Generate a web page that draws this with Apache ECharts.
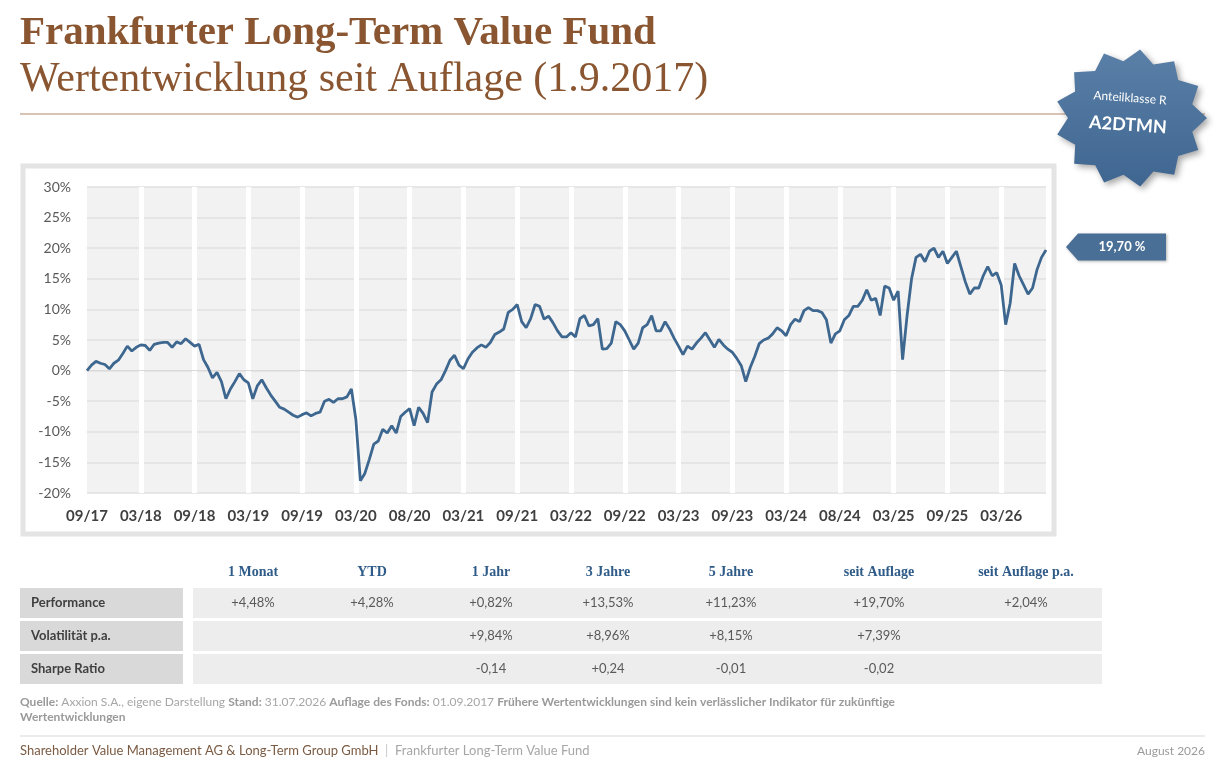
<!DOCTYPE html>
<html>
<head>
<meta charset="utf-8">
<script src="https://cdn.jsdelivr.net/npm/echarts@6/dist/echarts.min.js"></script>
<style>
html, body { margin: 0; padding: 0; background: #ffffff; }
#main { width: 1230px; height: 775px; }
</style>
</head>
<body>
<div id="main"></div>
<script>
// Achsenbeschriftung: ein Label alle 12 Datenpunkte (ca. halbjaehrlich)
var tickLabels = ['09/17', '03/18', '09/18', '03/19', '09/19', '03/20', '08/20', '03/21', '09/21',
    '03/22', '09/22', '03/23', '09/23', '03/24', '08/24', '03/25', '09/25', '03/26'];
var pointsPerTick = 12;

// Wertentwicklung seit Auflage in % (ca. 2-Wochen-Raster)
var fundValues = [
    0.0, 0.9, 1.5, 1.2, 1.0, 0.3, 1.2, 1.7, 2.8, 4.0, 3.2, 3.8,
    4.2, 4.1, 3.3, 4.3, 4.5, 4.6, 4.6, 3.8, 4.7, 4.4, 5.2, 4.6,
    4.0, 4.3, 1.8, 0.5, -1.2, -0.3, -1.8, -4.6, -3.0, -1.8, -0.5, -1.5,
    -2.0, -4.6, -2.5, -1.5, -2.8, -4.0, -5.0, -6.0, -6.3, -6.8, -7.3, -7.6,
    -7.2, -6.9, -7.4, -7.0, -6.8, -5.0, -4.7, -5.2, -4.6, -4.6, -4.3, -3.0,
    -8.0, -18.0, -16.8, -14.5, -12.0, -11.5, -9.6, -10.2, -9.0, -10.2, -7.5, -6.8,
    -6.2, -9.0, -6.0, -7.0, -8.5, -3.5, -2.2, -1.5, 0.0, 1.7, 2.5, 0.9,
    0.3, 1.9, 3.0, 3.7, 4.2, 3.8, 4.6, 5.9, 6.3, 6.8, 9.5, 10.0,
    10.8, 8.0, 7.0, 8.5, 10.8, 10.5, 8.4, 8.9, 7.8, 6.5, 5.5, 5.5,
    6.2, 5.5, 8.5, 9.0, 7.3, 7.5, 8.5, 3.5, 3.6, 4.5, 8.0, 7.5,
    6.5, 5.0, 3.5, 4.5, 7.0, 7.5, 9.0, 6.5, 6.5, 8.0, 6.8, 5.3,
    4.0, 2.6, 4.0, 3.5, 4.5, 5.3, 6.2, 5.0, 3.8, 5.1, 4.2, 3.5,
    3.0, 2.0, 0.8, -1.8, 0.5, 2.3, 4.4, 5.0, 5.3, 6.0, 7.0, 6.5,
    5.7, 7.5, 8.4, 8.0, 9.8, 10.3, 9.8, 9.8, 9.5, 8.3, 4.5, 6.0,
    6.5, 8.3, 9.0, 10.5, 10.5, 11.5, 13.2, 11.5, 11.8, 9.0, 13.8, 13.5,
    11.5, 13.0, 1.8, 9.0, 15.0, 18.5, 19.0, 17.8, 19.5, 20.0, 18.5, 19.5,
    17.5, 18.5, 19.5, 17.0, 14.5, 12.5, 13.5, 13.5, 15.5, 17.0, 15.5, 16.0,
    14.0, 7.5, 11.0, 17.5, 15.5, 14.0, 12.5, 13.5, 16.5, 18.5, 19.7
];

// Kennzahlen-Tabelle
var tableColumns = ['1 Monat', 'YTD', '1 Jahr', '3 Jahre', '5 Jahre', 'seit Auflage', 'seit Auflage p.a.'];
var tableRows = ['Performance', 'Volatilität p.a.', 'Sharpe Ratio'];
var performance = ['+4,48%', '+4,28%', '+0,82%', '+13,53%', '+11,23%', '+19,70%', '+2,04%'];
var volatility = ['', '', '+9,84%', '+8,96%', '+8,15%', '+7,39%', ''];
var sharpe = ['', '', '-0,14', '+0,24', '-0,01', '-0,02', ''];

var categories = fundValues.map(function (v, i) { return String(i); });
var lastIndex = fundValues.length - 1;
var lastLabel = fundValues[lastIndex].toFixed(2).replace('.', ',') + ' %';

var sansFont = 'Lato, "Liberation Sans", sans-serif';
var serifFont = '"Liberation Serif", "DejaVu Serif", serif';
var brown = '#8a5631';
var badgeBlue = '#4a6f96';

var chart = echarts.init(document.getElementById('main'));

function starPoints(cx, cy, rx, ry, n, inner) {
    var pts = [];
    for (var k = 0; k < n * 2; k++) {
        var a = Math.PI * k / n - Math.PI / 2 + 0.12;
        var f = k % 2 === 0 ? 1 : inner;
        pts.push([cx + Math.cos(a) * rx * f, cy + Math.sin(a) * ry * f]);
    }
    return pts;
}

// Tabelle als Grafik-Elemente
var colX = [253, 372, 491, 608, 731, 879, 1026];
var rowY = [588, 621, 654];
var rowValues = [performance, volatility, sharpe];
var tableGraphics = [];
tableColumns.forEach(function (c, j) {
    tableGraphics.push({
        type: 'text', x: colX[j], y: 572,
        style: { text: c, fill: '#2f5b88', font: 'bold 14px ' + serifFont, textAlign: 'center', textVerticalAlign: 'middle' }
    });
});
tableRows.forEach(function (r, i) {
    tableGraphics.push({
        type: 'rect', shape: { x: 20, y: rowY[i], width: 163, height: 30 },
        style: { fill: '#d9d9d9' }
    });
    tableGraphics.push({
        type: 'rect', shape: { x: 193, y: rowY[i], width: 909, height: 30 },
        style: { fill: '#ededed' }
    });
    tableGraphics.push({
        type: 'text', x: 31, y: rowY[i] + 15,
        style: { text: r, fill: '#404040', font: 'bold 13px ' + sansFont, textVerticalAlign: 'middle' }
    });
    rowValues[i].forEach(function (v, j) {
        if (!v) return;
        tableGraphics.push({
            type: 'text', x: colX[j], y: rowY[i] + 15,
            style: { text: v, fill: '#595959', font: '13px ' + sansFont, textAlign: 'center', textVerticalAlign: 'middle' }
        });
    });
});

option = {
    backgroundColor: '#ffffff',
    animation: false,
    grid: {
        left: 87, right: 184, top: 187, bottom: 282,
        show: true, backgroundColor: '#f2f2f2', borderWidth: 0, z: 0
    },
    xAxis: {
        type: 'category',
        data: categories,
        boundaryGap: false,
        z: 2,
        axisLine: { show: true, lineStyle: { color: '#d9d9d9', width: 1 } },
        axisTick: { show: false },
        axisLabel: {
            interval: function (i) { return i % pointsPerTick === 0; },
            formatter: function (v, i) { return tickLabels[i / pointsPerTick] || ''; },
            color: '#404040',
            fontFamily: sansFont,
            fontWeight: 'bold',
            fontSize: 15,
            margin: 16
        },
        splitLine: {
            show: true,
            interval: function (i) { return i > 0 && i % pointsPerTick === 0; },
            lineStyle: { color: '#ffffff', width: 5 }
        }
    },
    yAxis: {
        type: 'value',
        min: -20,
        max: 30,
        interval: 5,
        z: 1,
        axisLine: { show: false },
        axisTick: { show: false },
        axisLabel: { formatter: '{value}%', color: '#595959', fontFamily: sansFont, fontSize: 14, margin: 16 },
        splitLine: { lineStyle: { color: '#e1e1e1', width: 1.5 } }
    },
    series: [
        {
            name: 'Frankfurter Long-Term Value Fund',
            type: 'line',
            data: fundValues,
            showSymbol: false,
            z: 3,
            lineStyle: { color: '#3e6790', width: 2.8 },
            itemStyle: { color: '#3e6790' },
            markPoint: {
                symbol: 'path://M0,13 L12,0 L100,0 L100,26 L12,26 Z',
                symbolSize: [100, 27],
                symbolKeepAspect: false,
                symbolOffset: [70, -3],
                itemStyle: { color: badgeBlue, shadowBlur: 3, shadowColor: 'rgba(0,0,0,0.3)', shadowOffsetX: 1, shadowOffsetY: 1 },
                label: {
                    show: true, position: 'inside', offset: [6, 0],
                    formatter: lastLabel, color: '#ffffff',
                    fontFamily: sansFont, fontWeight: 'bold', fontSize: 13
                },
                data: [{ coord: [lastIndex, fundValues[lastIndex]] }]
            }
        }
    ],
    graphic: [
        {
            type: 'text', x: 20, y: 33,
            style: { text: 'Frankfurter Long-Term Value Fund', fill: brown, font: 'bold 41px ' + serifFont, textVerticalAlign: 'middle' }
        },
        {
            type: 'text', x: 20, y: 80,
            style: { text: 'Wertentwicklung seit Auflage (1.9.2017)', fill: brown, font: '42px ' + serifFont, textVerticalAlign: 'middle' }
        },
        {
            type: 'line', shape: { x1: 20, y1: 114, x2: 1205, y2: 114 },
            style: { stroke: '#cdb19b', lineWidth: 1.5 }
        },
        {
            type: 'rect', z: -1, shape: { x: 23, y: 166, width: 1031, height: 368 },
            style: { fill: '#ffffff', stroke: '#e4e4e4', lineWidth: 5 }
        },
        {
            type: 'polygon',
            shape: { points: starPoints(1131, 118, 76, 69, 13, 0.83) },
            style: {
                fill: new echarts.graphic.LinearGradient(0, 0, 0, 1, [
                    { offset: 0, color: '#5a80a8' }, { offset: 1, color: '#3f6690' }
                ]),
                shadowBlur: 6, shadowColor: 'rgba(0,0,0,0.35)', shadowOffsetX: 3, shadowOffsetY: 3
            }
        },
        {
            type: 'text', x: 1130, y: 98, rotation: -0.07,
            style: { text: 'Anteilklasse R', fill: '#ffffff', font: '12px ' + sansFont, textAlign: 'center', textVerticalAlign: 'middle' }
        },
        {
            type: 'text', x: 1128, y: 125, rotation: -0.07,
            style: { text: 'A2DTMN', fill: '#ffffff', font: 'bold 18px ' + sansFont, textAlign: 'center', textVerticalAlign: 'middle' }
        },
        {
            type: 'text', x: 20, y: 702,
            style: {
                text: '{b|Quelle:} Axxion S.A., eigene Darstellung {b|Stand:} 31.07.2026 {b|Auflage des Fonds:} 01.09.2017 {b|Frühere Wertentwicklungen sind kein verlässlicher Indikator für zukünftige}',
                fill: '#a6a6a6', font: '12px ' + sansFont, textVerticalAlign: 'middle',
                rich: { b: { fill: '#9a9a9a', fontWeight: 'bold', fontSize: 12, fontFamily: sansFont } }
            }
        },
        {
            type: 'text', x: 20, y: 717,
            style: { text: 'Wertentwicklungen', fill: '#9a9a9a', font: 'bold 12px ' + sansFont, textVerticalAlign: 'middle' }
        },
        {
            type: 'line', shape: { x1: 20, y1: 736, x2: 1205, y2: 736 },
            style: { stroke: '#e6e6e6', lineWidth: 1.5 }
        },
        {
            type: 'text', x: 20, y: 751,
            style: {
                text: '{a|Shareholder Value Management AG & Long-Term Group GmbH}{s|  |  }{c|Frankfurter Long-Term Value Fund}',
                font: '13px ' + sansFont, textVerticalAlign: 'middle',
                rich: {
                    a: { fill: '#7b5b43', fontSize: 13, fontFamily: sansFont },
                    s: { fill: '#c8c8c8', fontSize: 13, fontFamily: sansFont },
                    c: { fill: '#a6a6a6', fontSize: 13, fontFamily: sansFont }
                }
            }
        },
        {
            type: 'text', x: 1205, y: 751,
            style: { text: 'August 2026', fill: '#9a9a9a', font: '12px ' + sansFont, textAlign: 'right', textVerticalAlign: 'middle' }
        }
    ].concat(tableGraphics)
};

chart.setOption(option);

window.addEventListener('resize', function () {
    if (chart != null && chart != undefined) {
        chart.resize();
    }
});
</script>
</body>
</html>
